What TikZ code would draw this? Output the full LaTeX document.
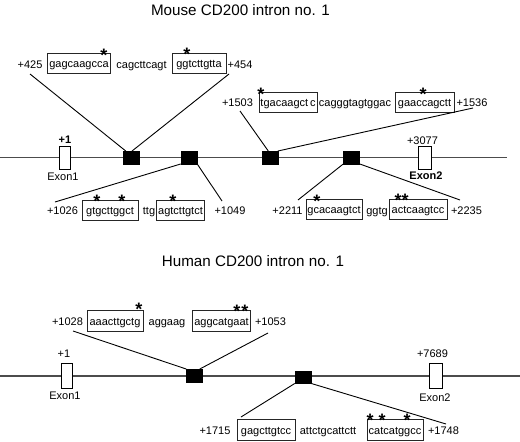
\documentclass[tikz,border=0pt]{standalone}
\usepackage{fontspec}
\setmainfont{Liberation Sans}
\begin{document}
\begin{tikzpicture}[x=1pt,y=-1pt,
  lbl/.style={anchor=base,inner sep=0pt,font=\fontsize{11}{13}\selectfont},
  ttl/.style={anchor=base,inner sep=0pt,font=\fontsize{15.2}{18}\selectfont},
  seqbox/.style={draw=black!85,line width=0.7pt,minimum height=20pt,inner ysep=0pt,inner xsep=1.5pt,
     text height=10pt,text depth=1pt,font=\fontsize{11}{13}\selectfont},
  starm/.style={anchor=base,inner sep=0pt,yshift=-10.3pt,font=\bfseries\fontsize{18}{18}\selectfont},
  blk/.style={fill=black,draw=black,minimum width=16pt,minimum height=12.5pt,inner sep=0pt},
  exonbox/.style={fill=white,draw=black,line width=0.7pt,inner sep=0pt},
  gene/.style={draw=black!70,line width=1.3pt},
  conn/.style={draw=black,line width=0.9pt}]
\useasboundingbox (0,0) rectangle (520,442);
\fill[white] (0,0) rectangle (520,442);

% ================= MOUSE =================
\node[ttl] (mtitle) at (240.5,15) {Mouse CD200 intron no. 1};

\coordinate (mlstart) at (0,157.5);
\coordinate (mlend) at (507,157.5);
\draw[gene] (mlstart) -- (mlend);

\node[exonbox,minimum width=11pt,minimum height=23pt] (mex1) at (64.5,157.5) {};
\node[exonbox,minimum width=13pt,minimum height=23pt] (mex2) at (424.5,157.5) {};
\node[lbl,font=\bfseries\fontsize{11}{13}\selectfont] (mp1) at (65,143) {+1};
\node[lbl] (mexon1) at (63,180) {Exon1};
\node[lbl] (mp3077) at (422.5,144) {+3077};
\node[lbl,font=\bfseries\fontsize{11}{13}\selectfont] (mexon2) at (426,179) {Exon2};

\node[blk] (mb1) at (131,157.5) {};
\node[blk] (mb2) at (189,157.5) {};
\node[blk] (mb3) at (270.5,157.5) {};
\node[blk] (mb4) at (351.5,157.5) {};

% top row +425
\node[lbl] (m425) at (30,68) {+425};
\node[seqbox,minimum width=62pt] (ms1) at (79,63) {gagcaagcca};
\node[lbl] (ml1) at (141.5,68) {cagcttcagt};
\node[seqbox,minimum width=54pt] (ms2) at (199,63) {ggtcttgtta};
\node[lbl] (m454) at (240,68) {+454};
\node[starm] (st1) at (104,51) {*};
\node[starm] (st2) at (187,50) {*};
\coordinate (c425) at (30,74);
\coordinate (c454) at (229,74);
\draw[conn] (c425) -- ([xshift=3pt]mb1.north west);
\draw[conn] (c454) -- ([xshift=1pt]mb1.north);

% row +1503
\node[lbl] (m1503) at (237.5,106) {+1503};
\node[seqbox,minimum width=58pt] (ms3) at (288,102) {tgacaagct\,c};
\node[lbl] (ml3) at (355,106) {cagggtagtggac};
\node[seqbox,minimum width=59pt] (ms4) at (424.5,102) {gaaccagctt};
\node[lbl] (m1536) at (472,106) {+1536};
\node[starm] (st3) at (261,90) {*};
\node[starm] (st4) at (423,90) {*};
\coordinate (c1503) at (240,111);
\coordinate (c1536) at (473,108);
\draw[conn] (c1503) -- ([xshift=6pt]mb3.north west);
\draw[conn] (c1536) -- ([xshift=-1pt]mb3.north east);

% bottom left +1026
\node[lbl] (m1026) at (62.5,214) {+1026};
\node[seqbox,minimum width=56pt] (ms5) at (110,210) {gtgcttggct};
\node[lbl] (ml5) at (149,214) {ttg};
\node[seqbox,minimum width=47pt] (ms6) at (180.5,210) {agtcttgtct};
\node[lbl] (m1049) at (230,214) {+1049};
\node[starm] (st5) at (97,197) {*};
\node[starm] (st6) at (122,197) {*};
\node[starm] (st7) at (173,197) {*};
\coordinate (c1026) at (55,202);
\coordinate (c1049) at (222,201);
\draw[conn] (c1026) -- (mb2.south west);
\draw[conn] (c1049) -- (mb2.south east);

% bottom right +2211
\node[lbl] (m2211) at (287.5,214) {+2211};
\node[seqbox,minimum width=56pt] (ms7) at (334,209) {gcacaagtct};
\node[lbl] (ml7) at (377,214) {ggtg};
\node[seqbox,minimum width=58pt] (ms8) at (418,209) {actcaagtcc};
\node[lbl] (m2235) at (466.5,214) {+2235};
\node[starm] (st8) at (317,197) {*};
\node[starm] (st9) at (398,196) {*};
\node[starm] (st10) at (405,196) {*};
\coordinate (c2211) at (298,200);
\coordinate (c2235) at (460,200);
\draw[conn] (c2211) -- (mb4.south west);
\draw[conn] (c2235) -- (mb4.south east);

% ================= HUMAN =================
\node[ttl] (htitle) at (253,266) {Human CD200 intron no. 1};

\coordinate (hlstart) at (0,376);
\coordinate (hlend) at (520,376);
\draw[gene] (hlstart) -- (hlend);

\node[exonbox,minimum width=11pt,minimum height=25pt] (hex1) at (66.5,375.5) {};
\node[exonbox,minimum width=13pt,minimum height=25pt] (hex2) at (435.5,375.5) {};
\node[lbl] (hp1) at (64,357) {+1};
\node[lbl] (hexon1) at (65,399) {Exon1};
\node[lbl] (hp7689) at (432.5,357) {+7689};
\node[lbl] (hexon2) at (435,401) {Exon2};

\node[blk] (hb1) at (194.5,375.5) {};
\node[blk] (hb2) at (303,377) {};

% top row +1028
\node[lbl] (h1028) at (67.5,325) {+1028};
\node[seqbox,minimum width=56pt,minimum height=21pt] (hs1) at (115,320.5) {aaacttgctg};
\node[lbl] (hl1) at (167,325) {aggaag};
\node[seqbox,minimum width=57pt,minimum height=21pt] (hs2) at (221.5,320.5) {aggcatgaat};
\node[lbl] (h1053) at (270.5,325) {+1053};
\node[starm] (hst1) at (139,305) {*};
\node[starm] (hst2) at (237,307) {*};
\node[starm] (hst3) at (245,307) {*};
\coordinate (c1028) at (73,331);
\coordinate (c1053) at (268,333);
\draw[conn] (c1028) -- (hb1.north west);
\draw[conn] (c1053) -- ([xshift=-3pt]hb1.north east);

% bottom row +1715
\node[lbl] (h1715) at (215,434) {+1715};
\node[seqbox,minimum width=58pt,minimum height=21pt] (hs3) at (266,429.5) {gagcttgtcc};
\node[lbl] (hl3) at (328,434) {attctgcattctt};
\node[seqbox,minimum width=56pt,minimum height=21pt] (hs4) at (395,429.5) {catcatggcc};
\node[lbl] (h1748) at (443.5,434) {+1748};
\node[starm] (hst4) at (370,416) {*};
\node[starm] (hst5) at (382,416) {*};
\node[starm] (hst6) at (407,416) {*};
\coordinate (c1715) at (241,417);
\coordinate (c1748) at (446,424);
\draw[conn] (c1715) -- (hb2.south west);
\draw[conn] (c1748) -- (hb2.south east);
\end{tikzpicture}
\end{document}
